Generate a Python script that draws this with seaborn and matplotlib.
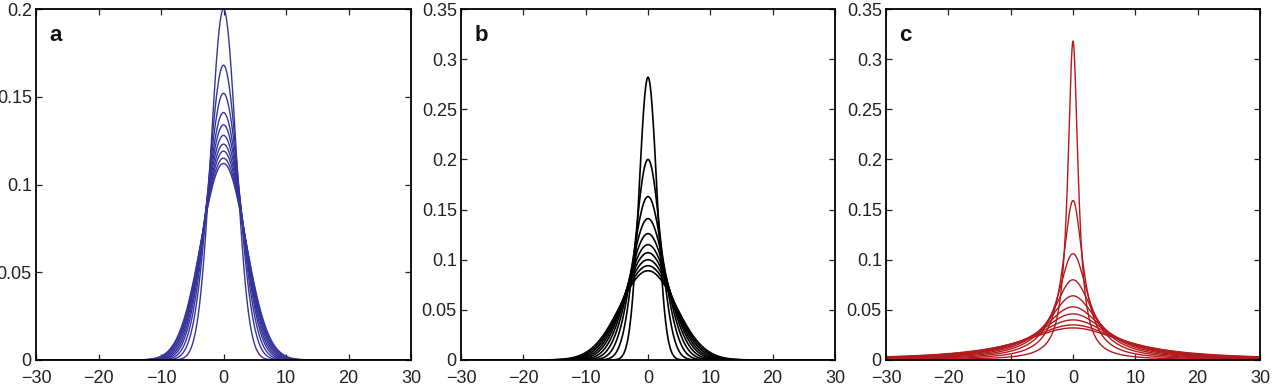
import numpy as np
import pandas as pd
import seaborn as sns
import matplotlib
matplotlib.use("Agg")
import matplotlib.pyplot as plt

# ---- values ----
# peak heights of the ten profiles in each panel
peaks_a = [0.200, 0.168, 0.152, 0.141, 0.134, 0.128, 0.123, 0.119, 0.115, 0.112]   # Gaussian profiles
peaks_b = [0.282, 0.200, 0.163, 0.141, 0.126, 0.115, 0.107, 0.100, 0.094, 0.089]   # Gaussian profiles
peaks_c = [0.318, 0.159, 0.106, 0.080, 0.064, 0.053, 0.046, 0.040, 0.035, 0.032]   # Cauchy profiles

panel_labels = ["a", "b", "c"]
xticks = [-30, -20, -10, 0, 10, 20, 30]
xtick_labels = ["\u221230", "\u221220", "\u221210", "0", "10", "20", "30"]
yticks_a = [0, 0.05, 0.1, 0.15, 0.2]
ytick_labels_a = ["0", "0.05", "0.1", "0.15", "0.2"]
yticks_bc = [0, 0.05, 0.1, 0.15, 0.2, 0.25, 0.3, 0.35]
ytick_labels_bc = ["0", "0.05", "0.1", "0.15", "0.2", "0.25", "0.3", "0.35"]

colors = ["#34349c", "#000000", "#b3191d"]
widths = [1.0, 1.2, 1.0]

x = np.linspace(-30, 30, 1501)


def gaussian_frame(peaks):
    rows = []
    for i, p in enumerate(peaks):
        sigma = 1.0 / (p * np.sqrt(2 * np.pi))  # unit-area profile with the read peak
        rows.append(pd.DataFrame({"x": x, "y": p * np.exp(-x**2 / (2 * sigma**2)), "curve": i}))
    return pd.concat(rows, ignore_index=True)


def cauchy_frame(peaks):
    rows = []
    for i, p in enumerate(peaks):
        gamma = 1.0 / (np.pi * p)  # unit-area profile with the read peak
        rows.append(pd.DataFrame({"x": x, "y": p / (1 + (x / gamma) ** 2), "curve": i}))
    return pd.concat(rows, ignore_index=True)


frames = [gaussian_frame(peaks_a), gaussian_frame(peaks_b), cauchy_frame(peaks_c)]

sns.set_style("ticks")
plt.rcParams["font.family"] = ["Liberation Sans", "DejaVu Sans"]
plt.rcParams["axes.unicode_minus"] = True

fig = plt.figure(figsize=(12.72, 3.89), dpi=100)
W, H = 1272, 389
boxes = [(36, 411), (461, 835), (886, 1260)]
top, bottom = 9, 360

for k in range(3):
    l, r = boxes[k]
    ax = fig.add_axes([l / W, (H - bottom) / H, (r - l) / W, (bottom - top) / H])
    df = frames[k]
    n = df["curve"].nunique()
    sns.lineplot(data=df, x="x", y="y", hue="curve", palette=[colors[k]] * n,
                 legend=False, linewidth=widths[k], ax=ax, estimator=None, sort=False)
    ax.set_xlim(-30, 30)
    if k == 0:
        ax.set_ylim(0, 0.2)
        ax.set_yticks(yticks_a)
        ax.set_yticklabels(ytick_labels_a)
    else:
        ax.set_ylim(0, 0.35)
        ax.set_yticks(yticks_bc)
        ax.set_yticklabels(ytick_labels_bc)
    ax.set_xticks(xticks)
    ax.set_xticklabels(xtick_labels)
    ax.set_xlabel("")
    ax.set_ylabel("")
    for s in ax.spines.values():
        s.set_visible(True)
        s.set_linewidth(1.3)
        s.set_color("black")
    ax.tick_params(direction="in", length=4, width=0.9, top=True, right=True,
                   labelsize=13, colors="#222222")
    ax.tick_params(axis="x", pad=7)
    ax.tick_params(axis="y", pad=3)
    ax.text(0.035, 0.955, panel_labels[k], transform=ax.transAxes, fontsize=16,
            fontweight="bold", va="top", ha="left", color="#111111")

fig.savefig("out.png", dpi=100)
